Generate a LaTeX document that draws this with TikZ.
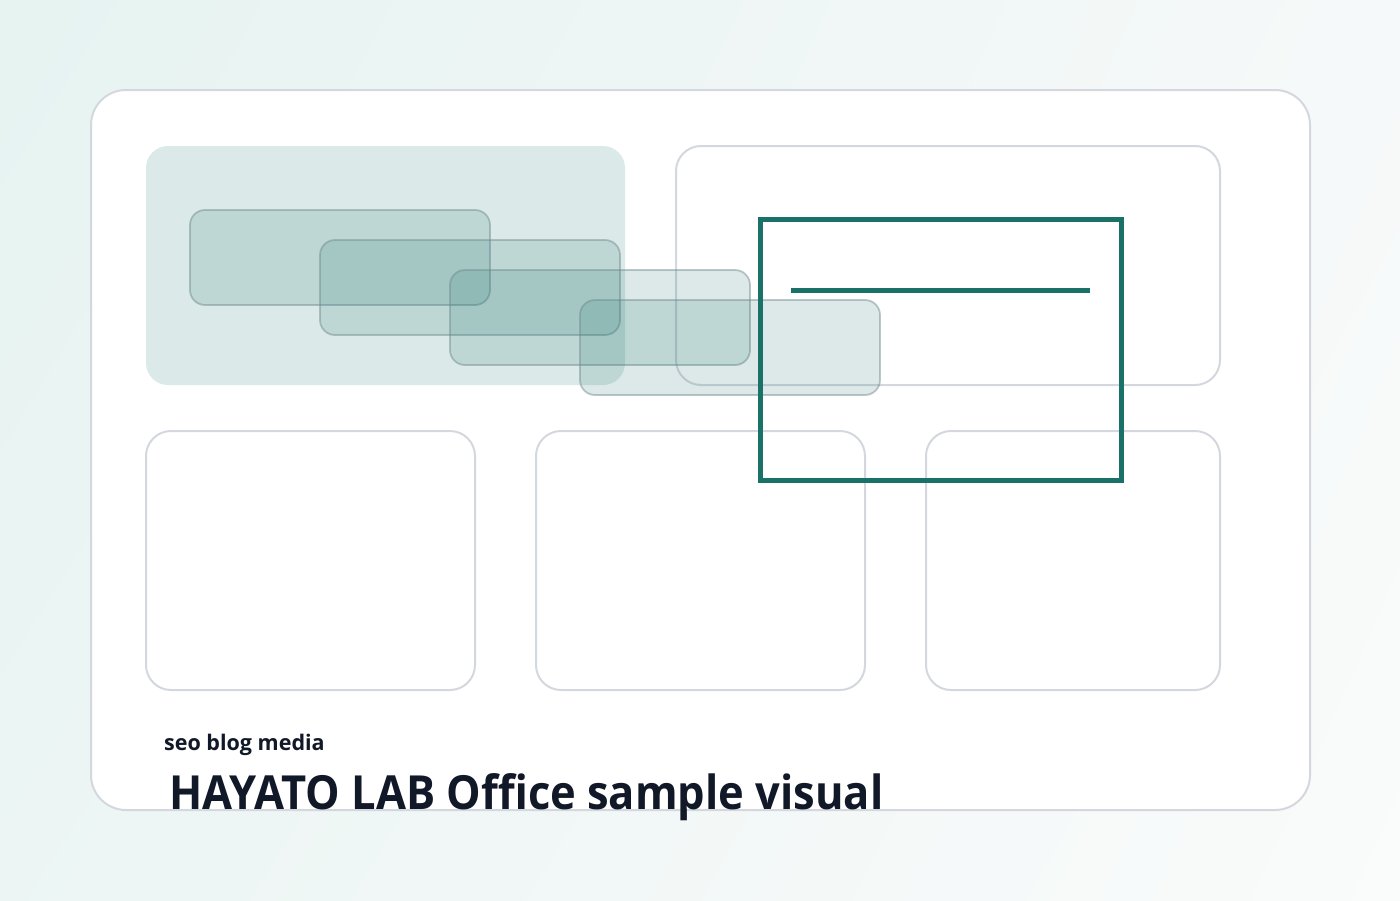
\documentclass[tikz,border=0pt]{standalone}
\usepackage{fontspec}
\setmainfont{Open Sans}
\newfontfamily\titlefont[FakeStretch=0.925]{Open Sans}
\usetikzlibrary{positioning,shadings}

\definecolor{bgmint}{RGB}{230,243,241}
\definecolor{bgpale}{RGB}{246,249,249}
\definecolor{bgwhite}{RGB}{250,251,251}
\definecolor{cardline}{RGB}{212,216,222}
\definecolor{panelfill}{RGB}{219,234,233}
\definecolor{labteal}{RGB}{26,113,104}
\definecolor{tileline}{RGB}{110,135,140}
\definecolor{inkdark}{RGB}{17,24,39}

\begin{document}
\begin{tikzpicture}[x=1pt, y=-1pt,
    card/.style={draw=cardline, line width=2pt, fill=white},
    tile/.style={fill=labteal, fill opacity=0.15, draw=tileline, draw opacity=0.45, line width=1.8pt, rounded corners=15pt},
    frame/.style={draw=labteal, line width=5pt}]
    \useasboundingbox (0,0) rectangle (1400,900);
    % background
    \shade[upper left=bgmint, upper right=bgpale, lower left=bgmint!70!bgwhite, lower right=bgwhite] (0,0) rectangle (1400,900);

    % outer card
    \draw[card, rounded corners=35pt] (91,90) rectangle (1310,810);

    % panels
    \fill[panelfill, rounded corners=22pt] (146,146) rectangle (625,385);
    \draw[card, rounded corners=25pt] (676,146) rectangle (1220,385);
    \draw[card, rounded corners=25pt] (146,431) rectangle (475,690);
    \draw[card, rounded corners=25pt] (536,431) rectangle (865,690);
    \draw[card, rounded corners=25pt] (926,431) rectangle (1220,690);

    % stacked tiles
    \foreach \i in {0,...,3}
      \draw[tile] (190+130*\i, 210+30*\i) rectangle ++(300,95);

    % teal frame
    \draw[frame] (760,219) rectangle (1121,480);
    \coordinate (barL) at (791,290);
    \coordinate (barR) at (1090,290);
    \draw[frame] (barL) -- (barR);

    % texts
    \node[anchor=base west, inner sep=0pt, text=inkdark, font=\fontsize{21.5}{26}\selectfont\bfseries] (kicker) at (164,750) {seo blog media};
    \node[anchor=base west, inner sep=0pt, text=inkdark, font=\titlefont\fontsize{47}{56}\selectfont\bfseries] (title) at (169,809) {HAYATO LAB Office sample visual};
\end{tikzpicture}
\end{document}
